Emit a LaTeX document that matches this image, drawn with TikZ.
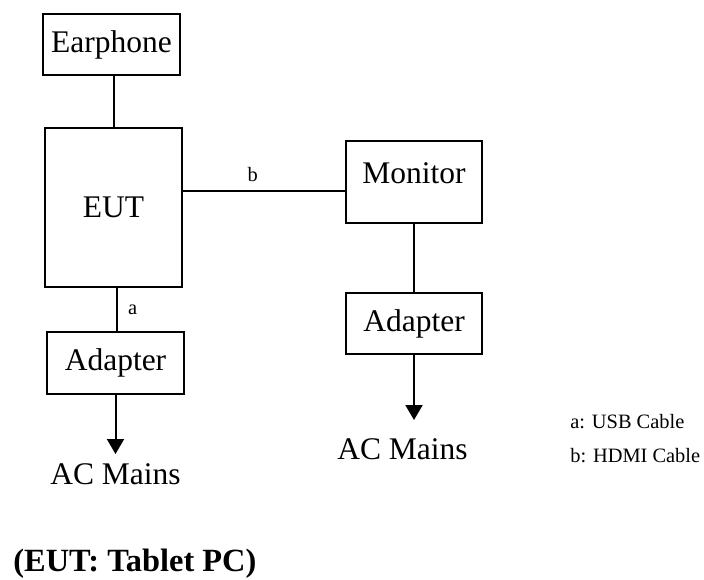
\documentclass[tikz,border=0pt]{standalone}
\usepackage{fontspec}
\setmainfont{Liberation Serif}
\usetikzlibrary{arrows.meta}

\tikzset{
  unit/.style={draw,line width=1pt,minimum width=68.5pt,font=\fontsize{15.75}{19}\selectfont},
  lbl/.style={inner sep=0pt,font=\fontsize{15.75}{19}\selectfont},
  small/.style={inner sep=0pt,font=\fontsize{10.2}{13}\selectfont},
  cable/.style={line width=1pt},
  feed/.style={line width=1pt,-{Triangle[length=7.5pt,width=8.5pt]}}
}

\begin{document}
\begin{tikzpicture}[x=0.5pt,y=-0.5pt]
  \useasboundingbox (0,0) rectangle (704,579);

  \node[unit,minimum height=30.5pt] (ear) at (111.5,44.5) {Earphone};
  \node[unit,minimum height=79.5pt] (eut) at (113.5,207.5) {EUT};
  \node[unit,minimum height=31pt] (adl) at (115.5,363) {Adapter};
  \node[unit,minimum width=68pt,inner ysep=0pt,text height=21pt,text depth=20pt,anchor=base] (mon) at (414,183) {Monitor};
  \node[unit,minimum width=68pt,minimum height=30.5pt] (adr) at (414,323.5) {Adapter};

  \draw[cable] (eut.north) -- (eut.north |- ear.south);
  \coordinate (hb) at ([yshift=8.25pt]eut.east);
  \draw[cable] (hb) -- (hb -| mon.west) node[small,pos=.43,above=4pt] {b};
  \draw[cable] ([xshift=1.75pt]eut.south) -- ([xshift=1.75pt]eut.south |- adl.north) node[small,midway,right=5pt] {a};
  \draw[cable] (mon.south) -- (adr.north);

  \draw[feed] (adl.south) -- ++(0,59);
  \node[lbl,anchor=base] (acl) at (115.5,484) {AC Mains};
  \draw[feed] (adr.south) -- ++(0,65);
  \node[lbl,anchor=base] (acr) at (402.5,459) {AC Mains};

  \node[small,anchor=base west] (kya) at (570,428) {a: USB Cable};
  \node[small,anchor=base west] (kyb) at (570,462) {b: HDMI Cable};
  \node[lbl,anchor=base west,font=\fontsize{16.2}{19}\selectfont\bfseries] (ttl) at (13,571) {(EUT: Tablet PC)};
\end{tikzpicture}
\end{document}
